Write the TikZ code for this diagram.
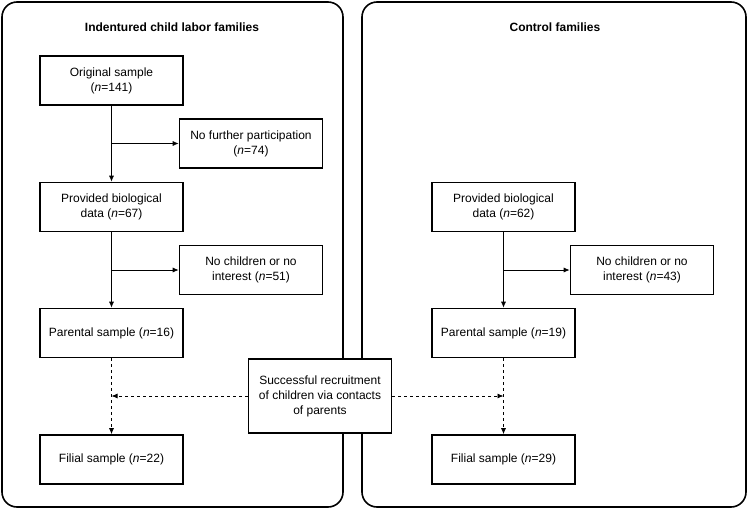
\documentclass[tikz,border=0pt]{standalone}
\usepackage{fontspec}
\setmainfont{Liberation Sans}
\usepackage{tikz}
\usetikzlibrary{
  arrows.meta,
  calc,
  positioning,
}
\tikzstyle{stepbox} = [
  draw,
  rectangle,
  line width=1.6pt,
  fill=white,
  minimum width=143,
  minimum height=49,
  align=center,
  font=\fontsize{12}{15}\selectfont,
]
\tikzstyle{arrow} = [
  -{Latex[length=6pt,width=5pt]},
  line width=0.8pt,
]
\tikzstyle{panel} = [
  line width=1.6pt,
  rounded corners=15pt,
]

\begin{document}
\begin{tikzpicture}[x=1pt,y=-1pt]
      \useasboundingbox (0,0) rectangle (748,509);

      % the two groups
      \draw[panel] (2,2) rectangle (343,507);
      \draw[panel] (362,2) rectangle (746,507);
      \node[font=\fontsize{12}{15}\selectfont\bfseries] (t0) at (172,27) {Indentured child labor families};
      \node[font=\fontsize{12}{15}\selectfont\bfseries] (t1) at (555,27) {Control families};

      % indentured child labor families
      \node[stepbox] (a0) at (111.5,80.5) {Original sample\\(\textit{n}=141)};
      \node[stepbox] (b0) at (251,143.5)  {No further participation\\(\textit{n}=74)};
      \node[stepbox] (a1) at (111.5,207)  {Provided biological\\data (\textit{n}=67)};
      \node[stepbox] (b1) at (251,270)    {No children or no\\interest (\textit{n}=51)};
      \node[stepbox] (a2) at (111.5,333)  {Parental sample (\textit{n}=16)};
      \node[stepbox] (a3) at (111.5,459.5) {Filial sample (\textit{n}=22)};

      % control families
      \node[stepbox] (c1) at (503.5,207)  {Provided biological\\data (\textit{n}=62)};
      \node[stepbox] (d1) at (642,270)    {No children or no\\interest (\textit{n}=43)};
      \node[stepbox] (c2) at (503.5,333)  {Parental sample (\textit{n}=19)};
      \node[stepbox] (c3) at (503.5,459.5) {Filial sample (\textit{n}=29)};

      \node[stepbox,minimum height=74] (r) at (320,396) {Successful recruitment\\of children via contacts\\of parents};

      \coordinate (p0) at (a0.south |- b0.west);
      \coordinate (p1) at (a1.south |- b1.west);
      \coordinate (p2) at (c1.south |- d1.west);
      \coordinate (q0) at (a2.south |- r.west);
      \coordinate (q1) at (c2.south |- r.east);

      \draw[arrow] (a0) -- (a1);
      \draw[arrow] (p0) -- (b0.west);
      \draw[arrow] (a1) -- (a2);
      \draw[arrow] (p1) -- (b1.west);
      \draw[arrow] (c1) -- (c2);
      \draw[arrow] (p2) -- (d1.west);

      \draw[arrow,dashed] (a2) -- (a3);
      \draw[arrow,dashed] (c2) -- (c3);
      \draw[arrow,dashed] (r.west) -- (q0);
      \draw[arrow,dashed] (r.east) -- (q1);

    \end{tikzpicture}
\end{document}
